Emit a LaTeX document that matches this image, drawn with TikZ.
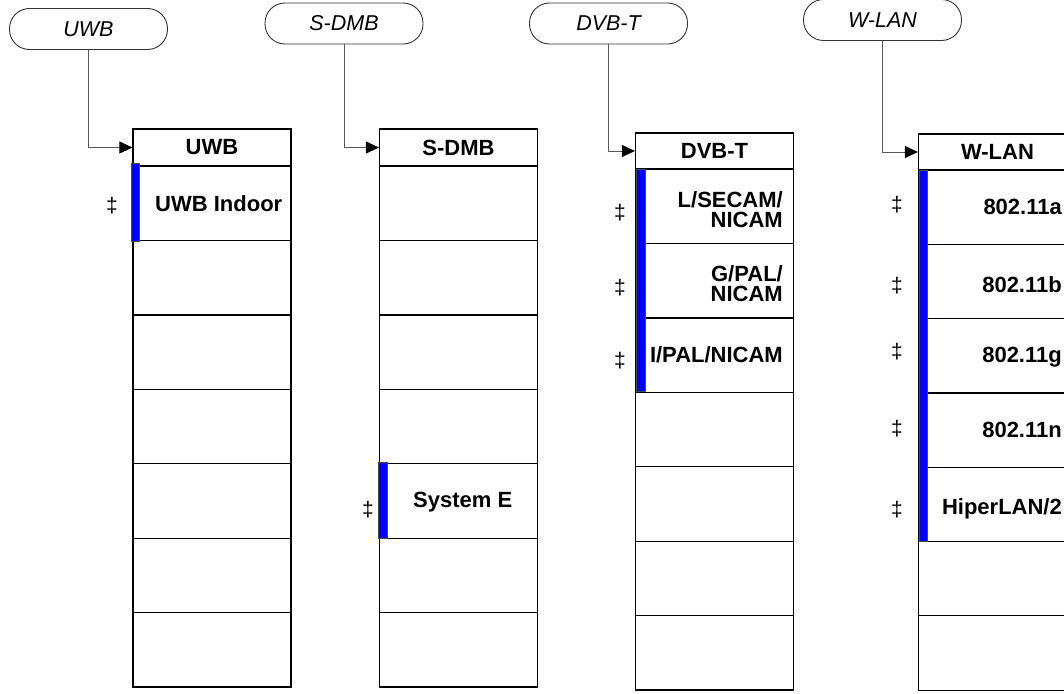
\documentclass[tikz,border=0pt]{standalone}
\usepackage{fontspec}
\setmainfont{Liberation Sans}
\usetikzlibrary{arrows.meta}

\begin{document}
\begin{tikzpicture}[x=1pt, y=-1pt,
  oval/.style={draw=black!80, line width=0.9pt, rounded corners=20pt, minimum width=158pt, minimum height=41pt, inner sep=0pt, font=\fontsize{21.5}{21}\selectfont\itshape},
  menuhead/.style={draw, line width=1.2pt, minimum width=158pt, minimum height=37pt, inner sep=0pt, font=\fontsize{22}{21}\selectfont\bfseries},
  menurow/.style={draw, line width=1.2pt, minimum width=158pt, minimum height=74.4pt, inner sep=0pt},
  softkey/.style={inner sep=0pt, font=\fontsize{22}{20}\selectfont\bfseries},
  ddag/.style={inner sep=0pt, font=\fontsize{21}{21}\selectfont},
  bar/.style={draw=black!70, line width=0.6pt, fill=blue},
  conn/.style={draw=black!65, line width=1pt, -{Triangle[length=13pt,width=12pt,color=black]}}]
\useasboundingbox (0,0) rectangle (1064,693);
\clip (0,0) rectangle (1064,693);

% softkey menus
\node[oval] (ouwb) at (88.5,29) {UWB};
\node[oval] (osdmb) at (344,23.5) {S-DMB};
\node[oval] (odvbt) at (608.5,23.5) {DVB-T};
\node[oval] (owlan) at (882.5,20) {W-LAN};

\node[menuhead] (huwb) at (212,147.5) {UWB};
\node[menurow] (uwb1) at (212,203.2) {};
\node[menurow] (uwb2) at (212,277.6) {};
\node[menurow] (uwb3) at (212,352.1) {};
\node[menurow] (uwb4) at (212,426.5) {};
\node[menurow] (uwb5) at (212,500.9) {};
\node[menurow] (uwb6) at (212,575.4) {};
\node[menurow] (uwb7) at (212,649.8) {};

\node[menuhead] (hsdmb) at (458.5,147.5) {S-DMB};
\node[menurow] (sdmb1) at (458.5,203.2) {};
\node[menurow] (sdmb2) at (458.5,277.6) {};
\node[menurow] (sdmb3) at (458.5,352.1) {};
\node[menurow] (sdmb4) at (458.5,426.5) {};
\node[menurow] (sdmb5) at (458.5,500.9) {};
\node[menurow] (sdmb6) at (458.5,575.4) {};
\node[menurow] (sdmb7) at (458.5,649.8) {};

\node[menuhead, minimum height=36pt] (hdvbt) at (714.5,151) {DVB-T};
\node[menurow] (dvbt1) at (714.5,206.2) {};
\node[menurow] (dvbt2) at (714.5,280.6) {};
\node[menurow] (dvbt3) at (714.5,355.1) {};
\node[menurow] (dvbt4) at (714.5,429.5) {};
\node[menurow] (dvbt5) at (714.5,503.9) {};
\node[menurow] (dvbt6) at (714.5,578.4) {};
\node[menurow] (dvbt7) at (714.5,652.8) {};

\node[menuhead, minimum height=36pt] (hwlan) at (997.5,152) {W-LAN};
\node[menurow] (wlan1) at (997.5,207.1) {};
\node[menurow] (wlan2) at (997.5,281.4) {};
\node[menurow] (wlan3) at (997.5,355.7) {};
\node[menurow] (wlan4) at (997.5,430) {};
\node[menurow] (wlan5) at (997.5,504.3) {};
\node[menurow] (wlan6) at (997.5,578.6) {};
\node[menurow] (wlan7) at (997.5,652.9) {};

% active keys
\path[bar] (131,163) rectangle (139,241);
\path[bar] (378,462) rectangle (387,538);
\path[bar] (636,169) rectangle (645,391);
\path[bar] (919,170) rectangle (927,541);

\node[softkey, anchor=base west] (tuwb1) at (155,211.5) {UWB Indoor};
\node[softkey, anchor=base west] (tsdmb5) at (413,507.5) {System E};
\node[softkey, anchor=east, align=right] (tdvbt1) at (783,210) {L/SECAM/\\NICAM};
\node[softkey, anchor=east, align=right] (tdvbt2) at (783,284) {G/PAL/\\NICAM};
\node[softkey, anchor=base east] (tdvbt3) at (783,362.5) {I/PAL/NICAM};
\node[softkey, anchor=base east] (twlan1) at (1062,214.5) {802.11a};
\node[softkey, anchor=base east] (twlan2) at (1062,292.5) {802.11b};
\node[softkey, anchor=base east] (twlan3) at (1062,362.5) {802.11g};
\node[softkey, anchor=base east] (twlan4) at (1062,437.5) {802.11n};
\node[softkey, anchor=base east] (twlan5) at (1062,514.5) {HiperLAN/2};

\node[ddag] (duwb1) at (112,206) {‡};
\node[ddag] (dsdmb5) at (368,510) {‡};
\node[ddag] (ddvbt1) at (620,213) {‡};
\node[ddag] (ddvbt2) at (620,288) {‡};
\node[ddag] (ddvbt3) at (620,361) {‡};
\node[ddag] (dwlan1) at (897,205) {‡};
\node[ddag] (dwlan2) at (897,286) {‡};
\node[ddag] (dwlan3) at (897,352) {‡};
\node[ddag] (dwlan4) at (897,429) {‡};
\node[ddag] (dwlan5) at (897,510) {‡};

\path[conn] (ouwb) |- (huwb);
\path[conn] (osdmb) |- (hsdmb);
\path[conn] (odvbt) |- (hdvbt);
\path[conn] (owlan) |- (hwlan);
\end{tikzpicture}
\end{document}
